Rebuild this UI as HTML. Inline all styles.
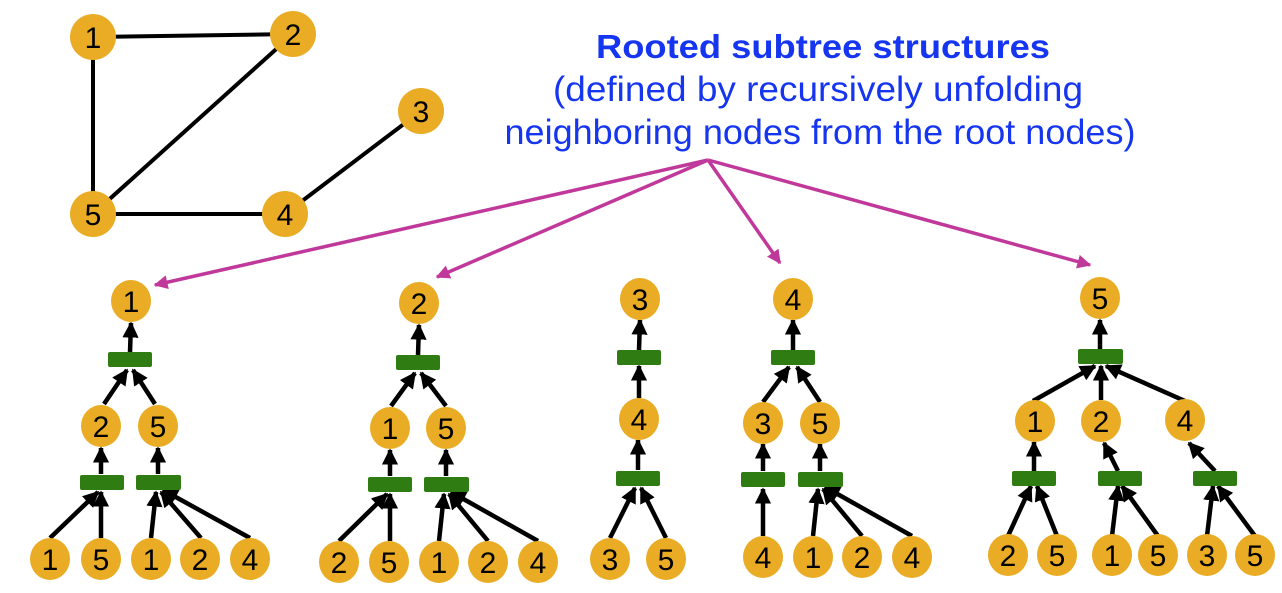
<!DOCTYPE html>
<html><head><meta charset="utf-8"><style>
html,body{margin:0;padding:0;background:#fff;}
svg{display:block;}
.n{fill:#E9AC24;}
.t{font-family:"Liberation Sans",Arial,sans-serif;font-size:30px;fill:#000;text-anchor:middle;}
.b{fill:#2F7D12;}
.e{stroke:#000;stroke-width:4.5;fill:none;marker-end:url(#ah);}
.g{stroke:#000;stroke-width:4;}
.m{stroke:#C0399A;stroke-width:3.5;fill:none;marker-end:url(#mh);}
</style></head><body>
<svg width="1282" height="593" viewBox="0 0 1282 593" xmlns="http://www.w3.org/2000/svg">
<defs>
<marker id="ah" viewBox="0 0 10 10" refX="9" refY="5" markerWidth="3.6" markerHeight="3.6" orient="auto" markerUnits="strokeWidth"><path d="M0,0 L10,5 L0,10 z" fill="#000"/></marker>
<marker id="mh" viewBox="0 0 10 10" refX="9" refY="5" markerWidth="4" markerHeight="4" orient="auto" markerUnits="strokeWidth"><path d="M0,0 L10,5 L0,10 z" fill="#C0399A"/></marker>
</defs>

<!-- top graph -->
<line class="g" x1="93" y1="37" x2="293" y2="34"/>
<line class="g" x1="93" y1="37" x2="93" y2="214"/>
<line class="g" x1="293" y1="34" x2="93" y2="214"/>
<line class="g" x1="93" y1="214" x2="285" y2="214"/>
<line class="g" x1="285" y1="214" x2="421" y2="111"/>
<circle class="n" cx="93" cy="37" r="23"/><text class="t" x="93" y="48">1</text>
<circle class="n" cx="293" cy="34" r="23"/><text class="t" x="293" y="45">2</text>
<circle class="n" cx="421" cy="111" r="23"/><text class="t" x="421" y="122">3</text>
<circle class="n" cx="285" cy="214" r="23"/><text class="t" x="285" y="225">4</text>
<circle class="n" cx="93" cy="214" r="23"/><text class="t" x="93" y="225">5</text>

<!-- title -->
<text x="823" y="58" font-family="Liberation Sans,Arial,sans-serif" font-weight="bold" font-size="33" fill="#1535F0" text-anchor="middle" textLength="454" lengthAdjust="spacingAndGlyphs">Rooted subtree structures</text>
<text x="818" y="101" font-family="Liberation Sans,Arial,sans-serif" font-size="35" fill="#1535F0" text-anchor="middle" textLength="530" lengthAdjust="spacingAndGlyphs">(defined by recursively unfolding</text>
<text x="820" y="144" font-family="Liberation Sans,Arial,sans-serif" font-size="35" fill="#1535F0" text-anchor="middle" textLength="631" lengthAdjust="spacingAndGlyphs">neighboring nodes from the root nodes)</text>

<!-- magenta arrows -->
<line class="m" x1="708" y1="160" x2="155" y2="285"/>
<line class="m" x1="708" y1="160" x2="437" y2="277"/>
<line class="m" x1="708" y1="160" x2="780" y2="263"/>
<line class="m" x1="708" y1="160" x2="1090" y2="265"/>

<!-- Tree 1 -->
<line class="e" x1="130" y1="352" x2="131" y2="323"/>
<line class="e" x1="104" y1="404" x2="127" y2="370"/>
<line class="e" x1="155" y1="404" x2="133" y2="370"/>
<line class="e" x1="101" y1="474" x2="101" y2="448"/>
<line class="e" x1="158" y1="474" x2="158" y2="448"/>
<line class="e" x1="50" y1="538" x2="98" y2="492"/>
<line class="e" x1="101" y1="538" x2="101" y2="492"/>
<line class="e" x1="151" y1="538" x2="156" y2="492"/>
<line class="e" x1="201" y1="538" x2="161" y2="492"/>
<line class="e" x1="250" y1="538" x2="163" y2="490"/>
<rect class="b" x="108" y="352" width="44" height="15" rx="2"/>
<rect class="b" x="80" y="475" width="44" height="15" rx="2"/>
<rect class="b" x="136" y="475" width="45" height="15" rx="2"/>
<ellipse class="n" cx="131" cy="301" rx="20" ry="21"/><text class="t" x="131" y="312">1</text>
<ellipse class="n" cx="101" cy="426" rx="20" ry="21"/><text class="t" x="101" y="437">2</text>
<ellipse class="n" cx="158" cy="426" rx="20" ry="21"/><text class="t" x="158" y="437">5</text>
<ellipse class="n" cx="50" cy="559" rx="20" ry="21"/><text class="t" x="50" y="570">1</text>
<ellipse class="n" cx="101" cy="559" rx="20" ry="21"/><text class="t" x="101" y="570">5</text>
<ellipse class="n" cx="151" cy="559" rx="20" ry="21"/><text class="t" x="151" y="570">1</text>
<ellipse class="n" cx="200" cy="559" rx="20" ry="21"/><text class="t" x="200" y="570">2</text>
<ellipse class="n" cx="250" cy="559" rx="20" ry="21"/><text class="t" x="250" y="570">4</text>

<!-- Tree 2 -->
<line class="e" x1="418" y1="355" x2="419" y2="325"/>
<line class="e" x1="391" y1="406" x2="415" y2="373"/>
<line class="e" x1="446" y1="406" x2="421" y2="373"/>
<line class="e" x1="390" y1="476" x2="390" y2="450"/>
<line class="e" x1="446" y1="476" x2="446" y2="450"/>
<line class="e" x1="339" y1="541" x2="387" y2="494"/>
<line class="e" x1="390" y1="541" x2="390" y2="494"/>
<line class="e" x1="439" y1="541" x2="444" y2="494"/>
<line class="e" x1="488" y1="541" x2="449" y2="494"/>
<line class="e" x1="538" y1="541" x2="451" y2="492"/>
<rect class="b" x="396" y="355" width="44" height="15" rx="2"/>
<rect class="b" x="368" y="477" width="44" height="15" rx="2"/>
<rect class="b" x="424" y="477" width="45" height="15" rx="2"/>
<ellipse class="n" cx="419" cy="303" rx="20" ry="21"/><text class="t" x="419" y="314">2</text>
<ellipse class="n" cx="390" cy="428" rx="20" ry="21"/><text class="t" x="390" y="439">1</text>
<ellipse class="n" cx="446" cy="428" rx="20" ry="21"/><text class="t" x="446" y="439">5</text>
<ellipse class="n" cx="339" cy="562" rx="20" ry="21"/><text class="t" x="339" y="573">2</text>
<ellipse class="n" cx="389" cy="562" rx="20" ry="21"/><text class="t" x="389" y="573">5</text>
<ellipse class="n" cx="439" cy="562" rx="20" ry="21"/><text class="t" x="439" y="573">1</text>
<ellipse class="n" cx="488" cy="562" rx="20" ry="21"/><text class="t" x="488" y="573">2</text>
<ellipse class="n" cx="538" cy="562" rx="20" ry="21"/><text class="t" x="538" y="573">4</text>

<!-- Tree 3 -->
<line class="e" x1="639" y1="350" x2="640" y2="320"/>
<line class="e" x1="639" y1="398" x2="639" y2="366"/>
<line class="e" x1="638" y1="470" x2="638" y2="440"/>
<line class="e" x1="610" y1="538" x2="635" y2="488"/>
<line class="e" x1="666" y1="538" x2="641" y2="488"/>
<rect class="b" x="617" y="350" width="44" height="15" rx="2"/>
<rect class="b" x="616" y="471" width="44" height="15" rx="2"/>
<ellipse class="n" cx="640" cy="299" rx="20" ry="21"/><text class="t" x="640" y="310">3</text>
<ellipse class="n" cx="639" cy="419" rx="20" ry="21"/><text class="t" x="639" y="430">4</text>
<ellipse class="n" cx="610" cy="559" rx="20" ry="21"/><text class="t" x="610" y="570">3</text>
<ellipse class="n" cx="666" cy="559" rx="20" ry="21"/><text class="t" x="666" y="570">5</text>

<!-- Tree 4 -->
<line class="e" x1="793" y1="350" x2="793" y2="320"/>
<line class="e" x1="763" y1="402" x2="789" y2="367"/>
<line class="e" x1="820" y1="402" x2="797" y2="367"/>
<line class="e" x1="763" y1="471" x2="763" y2="444"/>
<line class="e" x1="820" y1="471" x2="820" y2="444"/>
<line class="e" x1="763" y1="536" x2="763" y2="489"/>
<line class="e" x1="813" y1="536" x2="818" y2="489"/>
<line class="e" x1="862" y1="536" x2="823" y2="489"/>
<line class="e" x1="912" y1="536" x2="825" y2="487"/>
<rect class="b" x="771" y="350" width="44" height="15" rx="2"/>
<rect class="b" x="741" y="472" width="44" height="15" rx="2"/>
<rect class="b" x="798" y="472" width="45" height="15" rx="2"/>
<ellipse class="n" cx="793" cy="299" rx="20" ry="21"/><text class="t" x="793" y="310">4</text>
<ellipse class="n" cx="763" cy="423" rx="20" ry="21"/><text class="t" x="763" y="434">3</text>
<ellipse class="n" cx="820" cy="423" rx="20" ry="21"/><text class="t" x="820" y="434">5</text>
<ellipse class="n" cx="763" cy="557" rx="20" ry="21"/><text class="t" x="763" y="568">4</text>
<ellipse class="n" cx="813" cy="557" rx="20" ry="21"/><text class="t" x="813" y="568">1</text>
<ellipse class="n" cx="862" cy="557" rx="20" ry="21"/><text class="t" x="862" y="568">2</text>
<ellipse class="n" cx="912" cy="557" rx="20" ry="21"/><text class="t" x="912" y="568">4</text>

<!-- Tree 5 -->
<line class="e" x1="1100" y1="349" x2="1100" y2="320"/>
<line class="e" x1="1033" y1="401" x2="1095" y2="366"/>
<line class="e" x1="1101" y1="400" x2="1101" y2="366"/>
<line class="e" x1="1185" y1="401" x2="1106" y2="366"/>
<line class="e" x1="1034" y1="471" x2="1034" y2="442"/>
<line class="e" x1="1118" y1="471" x2="1104" y2="443"/>
<line class="e" x1="1215" y1="471" x2="1189" y2="443"/>
<line class="e" x1="1008" y1="536" x2="1031" y2="486"/>
<line class="e" x1="1057" y1="536" x2="1037" y2="486"/>
<line class="e" x1="1112" y1="536" x2="1118" y2="486"/>
<line class="e" x1="1158" y1="536" x2="1122" y2="486"/>
<line class="e" x1="1207" y1="536" x2="1213" y2="486"/>
<line class="e" x1="1255" y1="536" x2="1218" y2="486"/>
<rect class="b" x="1078" y="349" width="45" height="15" rx="2"/>
<rect class="b" x="1012" y="471" width="44" height="15" rx="2"/>
<rect class="b" x="1098" y="471" width="44" height="15" rx="2"/>
<rect class="b" x="1193" y="471" width="44" height="15" rx="2"/>
<ellipse class="n" cx="1100" cy="298" rx="20" ry="21"/><text class="t" x="1100" y="309">5</text>
<ellipse class="n" cx="1035" cy="421" rx="20" ry="21"/><text class="t" x="1035" y="432">1</text>
<ellipse class="n" cx="1101" cy="421" rx="20" ry="21"/><text class="t" x="1101" y="432">2</text>
<ellipse class="n" cx="1185" cy="420" rx="20" ry="21"/><text class="t" x="1185" y="431">4</text>
<ellipse class="n" cx="1008" cy="555" rx="20" ry="21"/><text class="t" x="1008" y="566">2</text>
<ellipse class="n" cx="1057" cy="555" rx="20" ry="21"/><text class="t" x="1057" y="566">5</text>
<ellipse class="n" cx="1112" cy="555" rx="20" ry="21"/><text class="t" x="1112" y="566">1</text>
<ellipse class="n" cx="1158" cy="555" rx="20" ry="21"/><text class="t" x="1158" y="566">5</text>
<ellipse class="n" cx="1207" cy="555" rx="20" ry="21"/><text class="t" x="1207" y="566">3</text>
<ellipse class="n" cx="1255" cy="555" rx="20" ry="21"/><text class="t" x="1255" y="566">5</text>
</svg>
</body></html>
